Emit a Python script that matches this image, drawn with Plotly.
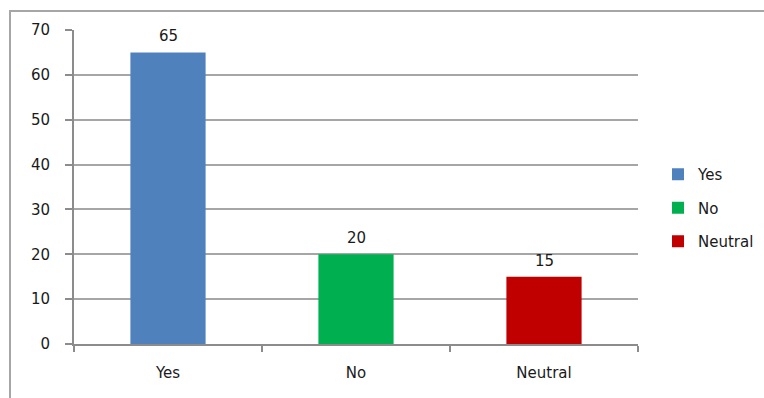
import plotly.graph_objects as go

categories = ["Yes", "No", "Neutral"]
values = [65, 20, 15]
colors = ["#4F81BD", "#00B050", "#C00000"]
y_ticks = [0, 10, 20, 30, 40, 50, 60, 70]

W, H = 764, 398
L, R, T, B = 74, 126, 30, 54
pw, ph = W - L - R, H - T - B
FS = 15

fig = go.Figure()
for c, v, col in zip(categories, values, colors):
    fig.add_trace(go.Bar(
        x=[c], y=[v], name=c, marker=dict(color=col, line=dict(width=0)),
        width=0.4, legendgroup=c,
    ))
    fig.add_annotation(x=c, y=v, text=str(v), showarrow=False, xref="x", yref="y",
                       yanchor="bottom", yshift=5, font=dict(size=FS, color="#1a1a1a"))

fig.update_layout(
    width=W, height=H, margin=dict(l=L, r=R, t=T, b=B, autoexpand=False),
    paper_bgcolor="white", plot_bgcolor="white",
    barmode="overlay",
    font=dict(family="DejaVu Sans", size=FS, color="#1a1a1a"),
    showlegend=True,
    legend=dict(x=(658 - L) / pw, y=(344 - 158) / ph, xanchor="left", yanchor="top",
                font=dict(size=FS), tracegroupgap=11, itemwidth=30,
                bgcolor="rgba(0,0,0,0)"),
    xaxis=dict(categoryorder="array", categoryarray=categories,
               showline=True, linecolor="#8c8c8c", linewidth=2,
               ticks="outside", tickson="boundaries", ticklen=6, tickcolor="#8c8c8c", tickwidth=2,
               showgrid=False, tickfont=dict(size=FS), ticklabelstandoff=14),
    yaxis=dict(range=[0, 70], tickvals=y_ticks, showline=True, linecolor="#8c8c8c", linewidth=2,
               ticks="outside", ticklen=7, tickcolor="#8c8c8c", tickwidth=2,
               showgrid=True, gridcolor="#a6a6a6", gridwidth=2, zeroline=False,
               tickfont=dict(size=FS), ticklabelstandoff=12),
    shapes=[dict(type="rect", xref="paper", yref="paper",
                 x0=(10 - L) / pw, x1=(W + 20 - L) / pw,
                 y0=(344 - (H + 20)) / ph, y1=(344 - 11) / ph,
                 line=dict(color="#a6a6a6", width=2), layer="below")],
)

fig.write_html("out.html")
